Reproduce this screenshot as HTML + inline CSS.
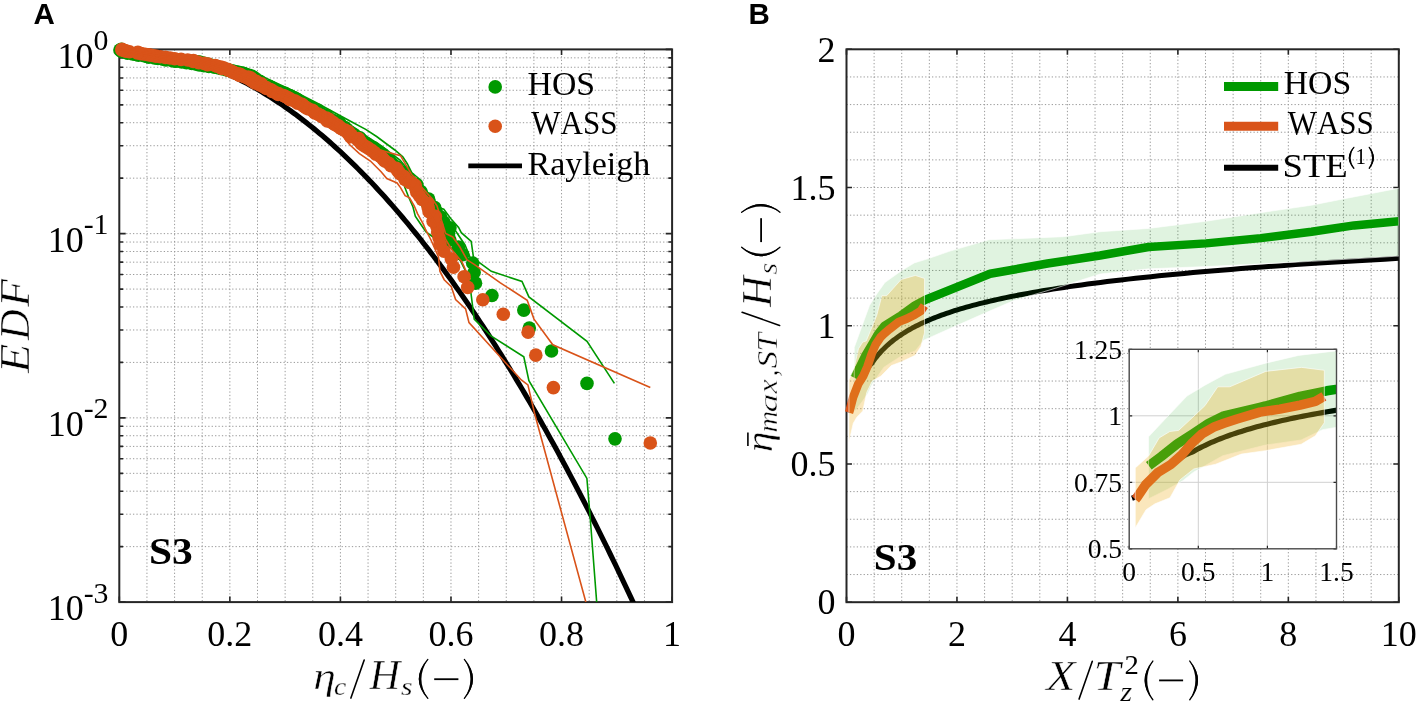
<!DOCTYPE html><html><head><meta charset="utf-8"><style>html,body{margin:0;padding:0;background:#fff;overflow:hidden}svg{display:block;will-change:transform}</style></head><body>
<svg width="1417" height="702" viewBox="0 0 1417 702">
<rect width="1417" height="702" fill="#fff"/>
<defs><clipPath id="c1"><rect x="107.3" y="29.4" width="584.8" height="572.7"/></clipPath>
<clipPath id="c2"><rect x="842.5" y="49.3" width="556.3" height="552.9"/></clipPath>
<clipPath id="ci"><rect x="1129.2" y="349.3" width="207.3" height="199.5"/></clipPath></defs>
<path d="M146.94 49.4V602.1M174.58 49.4V602.1M202.22 49.4V602.1M229.86 49.4V602.1M257.5 49.4V602.1M285.14 49.4V602.1M312.78 49.4V602.1M340.42 49.4V602.1M368.06 49.4V602.1M395.7 49.4V602.1M423.34 49.4V602.1M450.98 49.4V602.1M478.62 49.4V602.1M506.26 49.4V602.1M533.9 49.4V602.1M561.54 49.4V602.1M589.18 49.4V602.1M616.82 49.4V602.1M644.46 49.4V602.1M119.3 546.64H672.1M119.3 514.2H672.1M119.3 491.18H672.1M119.3 473.33H672.1M119.3 458.74H672.1M119.3 446.4H672.1M119.3 435.72H672.1M119.3 426.3H672.1M119.3 417.87H672.1M119.3 362.41H672.1M119.3 329.97H672.1M119.3 306.95H672.1M119.3 289.09H672.1M119.3 274.51H672.1M119.3 262.17H672.1M119.3 251.49H672.1M119.3 242.06H672.1M119.3 233.63H672.1M119.3 178.17H672.1M119.3 145.73H672.1M119.3 122.71H672.1M119.3 104.86H672.1M119.3 90.27H672.1M119.3 77.94H672.1M119.3 67.25H672.1M119.3 57.83H672.1" stroke="#9a9a9a" stroke-width="1" stroke-dasharray="1.3 2.12" fill="none"/>
<path d="M874.12 49.3V602.2M901.73 49.3V602.2M929.35 49.3V602.2M956.96 49.3V602.2M984.58 49.3V602.2M1012.19 49.3V602.2M1039.81 49.3V602.2M1067.42 49.3V602.2M1095.04 49.3V602.2M1122.65 49.3V602.2M1150.26 49.3V602.2M1177.88 49.3V602.2M1205.49 49.3V602.2M1233.11 49.3V602.2M1260.72 49.3V602.2M1288.34 49.3V602.2M1315.95 49.3V602.2M1343.57 49.3V602.2M1371.18 49.3V602.2M846.5 574.56H1398.8M846.5 546.91H1398.8M846.5 519.26H1398.8M846.5 491.62H1398.8M846.5 463.98H1398.8M846.5 436.33H1398.8M846.5 408.69H1398.8M846.5 381.04H1398.8M846.5 353.39H1398.8M846.5 325.75H1398.8M846.5 298.1H1398.8M846.5 270.46H1398.8M846.5 242.81H1398.8M846.5 215.17H1398.8M846.5 187.52H1398.8M846.5 159.88H1398.8M846.5 132.23H1398.8M846.5 104.59H1398.8M846.5 76.94H1398.8" stroke="#9a9a9a" stroke-width="1" stroke-dasharray="1.3 2.12" fill="none"/>
<path d="M119.3 602.1h6.4M672.1 602.1h-6.4M119.3 546.64h3.8M672.1 546.64h-3.8M119.3 514.2h3.8M672.1 514.2h-3.8M119.3 491.18h3.8M672.1 491.18h-3.8M119.3 473.33h3.8M672.1 473.33h-3.8M119.3 458.74h3.8M672.1 458.74h-3.8M119.3 446.4h3.8M672.1 446.4h-3.8M119.3 435.72h3.8M672.1 435.72h-3.8M119.3 426.3h3.8M672.1 426.3h-3.8M119.3 417.87h6.4M672.1 417.87h-6.4M119.3 362.41h3.8M672.1 362.41h-3.8M119.3 329.97h3.8M672.1 329.97h-3.8M119.3 306.95h3.8M672.1 306.95h-3.8M119.3 289.09h3.8M672.1 289.09h-3.8M119.3 274.51h3.8M672.1 274.51h-3.8M119.3 262.17h3.8M672.1 262.17h-3.8M119.3 251.49h3.8M672.1 251.49h-3.8M119.3 242.06h3.8M672.1 242.06h-3.8M119.3 233.63h6.4M672.1 233.63h-6.4M119.3 178.17h3.8M672.1 178.17h-3.8M119.3 145.73h3.8M672.1 145.73h-3.8M119.3 122.71h3.8M672.1 122.71h-3.8M119.3 104.86h3.8M672.1 104.86h-3.8M119.3 90.27h3.8M672.1 90.27h-3.8M119.3 77.94h3.8M672.1 77.94h-3.8M119.3 67.25h3.8M672.1 67.25h-3.8M119.3 57.83h3.8M672.1 57.83h-3.8M119.3 49.4h6.4M672.1 49.4h-6.4M119.3 602.1v-5.5M119.3 49.4v5.5M229.86 602.1v-5.5M229.86 49.4v5.5M340.42 602.1v-5.5M340.42 49.4v5.5M450.98 602.1v-5.5M450.98 49.4v5.5M561.54 602.1v-5.5M561.54 49.4v5.5M672.1 602.1v-5.5M672.1 49.4v5.5" stroke="#262626" stroke-width="1.6" fill="none"/>
<rect x="119.3" y="49.4" width="552.8" height="552.7" fill="none" stroke="#262626" stroke-width="2"/>
<g clip-path="url(#c1)">
<polyline points="119.3,49.4 121.9,49.41 124.49,49.46 127.09,49.53 129.69,49.63 132.29,49.75 134.88,49.91 137.48,50.09 140.08,50.3 142.68,50.54 145.27,50.81 147.87,51.11 150.47,51.43 153.07,51.79 155.66,52.17 158.26,52.58 160.86,53.02 163.45,53.48 166.05,53.98 168.65,54.5 171.25,55.05 173.84,55.63 176.44,56.24 179.04,56.87 181.64,57.54 184.23,58.23 186.83,58.95 189.43,59.7 192.03,60.48 194.62,61.28 197.22,62.11 199.82,62.98 202.41,63.87 205.01,64.78 207.61,65.73 210.21,66.7 212.8,67.71 215.4,68.74 218,69.8 220.6,70.89 223.19,72 225.79,73.15 228.39,74.32 230.99,75.52 233.58,76.75 236.18,78.01 238.78,79.29 241.37,80.61 243.97,81.95 246.57,83.32 249.17,84.72 251.76,86.14 254.36,87.6 256.96,89.08 259.56,90.59 262.15,92.13 264.75,93.7 267.35,95.3 269.94,96.92 272.54,98.57 275.14,100.25 277.74,101.96 280.33,103.7 282.93,105.47 285.53,107.26 288.13,109.08 290.72,110.93 293.32,112.81 295.92,114.72 298.52,116.66 301.11,118.62 303.71,120.61 306.31,122.63 308.9,124.68 311.5,126.76 314.1,128.86 316.7,130.99 319.29,133.15 321.89,135.34 324.49,137.56 327.09,139.81 329.68,142.08 332.28,144.39 334.88,146.72 337.48,149.08 340.07,151.46 342.67,153.88 345.27,156.32 347.86,158.79 350.46,161.29 353.06,163.82 355.66,166.38 358.25,168.97 360.85,171.58 363.45,174.22 366.05,176.89 368.64,179.59 371.24,182.31 373.84,185.07 376.44,187.85 379.03,190.66 381.63,193.5 384.23,196.37 386.82,199.27 389.42,202.19 392.02,205.14 394.62,208.12 397.21,211.13 399.81,214.17 402.41,217.23 405.01,220.33 407.6,223.45 410.2,226.6 412.8,229.78 415.4,232.99 417.99,236.22 420.59,239.48 423.19,242.78 425.78,246.09 428.38,249.44 430.98,252.82 433.58,256.22 436.17,259.66 438.77,263.12 441.37,266.61 443.97,270.12 446.56,273.67 449.16,277.24 451.76,280.85 454.36,284.48 456.95,288.13 459.55,291.82 462.15,295.54 464.74,299.28 467.34,303.05 469.94,306.85 472.54,310.68 475.13,314.54 477.73,318.42 480.33,322.33 482.93,326.28 485.52,330.25 488.12,334.24 490.72,338.27 493.32,342.32 495.91,346.41 498.51,350.52 501.11,354.66 503.7,358.82 506.3,363.02 508.9,367.24 511.5,371.49 514.09,375.77 516.69,380.08 519.29,384.42 521.89,388.78 524.48,393.18 527.08,397.6 529.68,402.05 532.27,406.53 534.87,411.03 537.47,415.57 540.07,420.13 542.66,424.72 545.26,429.34 547.86,433.99 550.46,438.66 553.05,443.37 555.65,448.1 558.25,452.86 560.85,457.65 563.44,462.47 566.04,467.31 568.64,472.19 571.23,477.09 573.83,482.02 576.43,486.98 579.03,491.96 581.62,496.98 584.22,502.02 586.82,507.09 589.42,512.19 592.01,517.32 594.61,522.48 597.21,527.66 599.81,532.87 602.4,538.11 605,543.38 607.6,548.68 610.19,554.01 612.79,559.36 615.39,564.74 617.99,570.15 620.58,575.59 623.18,581.06 625.78,586.55 628.38,592.08 630.97,597.63 633.57,603.21 636.17,608.82" fill="none" stroke="#000" stroke-width="5.2"/>
<g fill="#009900">
<circle cx="615" cy="438.86" r="6.8"/>
<circle cx="587" cy="383.4" r="6.8"/>
<circle cx="551.5" cy="350.96" r="6.8"/>
<circle cx="529.3" cy="327.94" r="6.8"/>
<circle cx="523.8" cy="310.09" r="6.8"/>
<circle cx="491.9" cy="295.5" r="6.8"/>
<circle cx="475.5" cy="283.16" r="6.8"/>
<circle cx="474.1" cy="272.48" r="6.8"/>
<circle cx="472.7" cy="263.06" r="6.8"/>
<circle cx="462.7" cy="254.63" r="6.8"/>
<circle cx="458.4" cy="247" r="6.8"/>
<circle cx="449.9" cy="240.04" r="6.8"/>
<circle cx="448.5" cy="233.63" r="6.8"/>
<circle cx="449.95" cy="227.7" r="6.8"/>
<circle cx="443.79" cy="222.18" r="6.8"/>
<circle cx="440.64" cy="217.02" r="6.8"/>
<circle cx="436.29" cy="212.17" r="6.8"/>
<circle cx="434.69" cy="207.6" r="6.8"/>
<circle cx="427.18" cy="203.27" r="6.8"/>
<circle cx="428.65" cy="199.17" r="6.8"/>
<circle cx="422.56" cy="195.26" r="6.8"/>
<circle cx="420.91" cy="191.54" r="6.8"/>
<circle cx="417.42" cy="187.98" r="6.8"/>
<circle cx="416.79" cy="184.58" r="6.8"/>
<circle cx="409.79" cy="181.31" r="6.8"/>
<circle cx="408.53" cy="178.17" r="6.8"/>
<circle cx="405.24" cy="175.15" r="6.8"/>
<circle cx="403.95" cy="172.24" r="6.8"/>
<circle cx="398.28" cy="169.44" r="6.8"/>
<circle cx="396.45" cy="166.72" r="6.8"/>
<circle cx="392.38" cy="164.1" r="6.8"/>
<circle cx="390.36" cy="161.56" r="6.8"/>
<circle cx="387.97" cy="159.1" r="6.8"/>
<circle cx="383.01" cy="156.71" r="6.8"/>
<circle cx="382.85" cy="154.39" r="6.8"/>
<circle cx="379.54" cy="152.14" r="6.8"/>
<circle cx="376.07" cy="149.94" r="6.8"/>
<circle cx="373.64" cy="147.81" r="6.8"/>
<circle cx="368.9" cy="145.73" r="6.8"/>
<circle cx="366.82" cy="143.71" r="6.8"/>
<circle cx="363.16" cy="141.73" r="6.8"/>
<circle cx="361.35" cy="139.8" r="6.8"/>
<circle cx="359.76" cy="137.92" r="6.8"/>
<circle cx="355.81" cy="136.08" r="6.8"/>
<circle cx="353.73" cy="134.28" r="6.8"/>
<circle cx="351" cy="132.52" r="6.8"/>
<circle cx="348.48" cy="130.8" r="6.8"/>
<circle cx="346.41" cy="129.12" r="6.8"/>
<circle cx="344.97" cy="127.47" r="6.8"/>
<circle cx="341.4" cy="125.85" r="6.8"/>
<circle cx="340.28" cy="124.27" r="6.8"/>
<circle cx="339.3" cy="122.71" r="6.8"/>
<circle cx="335.55" cy="121.19" r="6.8"/>
<circle cx="331.84" cy="119.69" r="6.8"/>
<circle cx="328.46" cy="118.23" r="6.8"/>
<circle cx="326.13" cy="116.78" r="6.8"/>
<circle cx="326.6" cy="115.37" r="6.8"/>
<circle cx="322.22" cy="113.98" r="6.8"/>
<circle cx="319.02" cy="112.61" r="6.8"/>
<circle cx="317.69" cy="111.26" r="6.8"/>
<circle cx="317.62" cy="109.94" r="6.8"/>
<circle cx="312.91" cy="108.64" r="6.8"/>
<circle cx="311.21" cy="107.36" r="6.8"/>
<circle cx="308.57" cy="106.1" r="6.8"/>
<circle cx="305.57" cy="104.86" r="6.8"/>
<circle cx="302.43" cy="103.64" r="6.8"/>
<circle cx="301.22" cy="102.43" r="6.8"/>
<circle cx="299.27" cy="101.25" r="6.8"/>
<circle cx="298.13" cy="100.08" r="6.8"/>
<circle cx="296.36" cy="98.93" r="6.8"/>
<circle cx="294.44" cy="97.8" r="6.8"/>
<circle cx="291.66" cy="96.68" r="6.8"/>
<circle cx="289.85" cy="95.57" r="6.8"/>
<circle cx="285.29" cy="94.48" r="6.8"/>
<circle cx="285.15" cy="93.41" r="6.8"/>
<circle cx="281.74" cy="92.35" r="6.8"/>
<circle cx="278.27" cy="91.3" r="6.8"/>
<circle cx="276.76" cy="90.27" r="6.8"/>
<circle cx="273.65" cy="89.25" r="6.8"/>
<circle cx="272.71" cy="88.25" r="6.8"/>
<circle cx="270.81" cy="87.25" r="6.8"/>
<circle cx="269.27" cy="86.27" r="6.8"/>
<circle cx="263.26" cy="85.3" r="6.8"/>
<circle cx="261.74" cy="84.34" r="6.8"/>
<circle cx="261.43" cy="83.4" r="6.8"/>
<circle cx="260.8" cy="82.46" r="6.8"/>
<circle cx="260.25" cy="81.53" r="6.8"/>
<circle cx="258.18" cy="80.62" r="6.8"/>
<circle cx="254" cy="79.72" r="6.8"/>
<circle cx="254.69" cy="78.82" r="6.8"/>
<circle cx="254.71" cy="77.94" r="6.8"/>
<circle cx="252.66" cy="77.06" r="6.8"/>
<circle cx="251.98" cy="76.2" r="6.8"/>
<circle cx="249.21" cy="75.34" r="6.8"/>
<circle cx="246.41" cy="74.5" r="6.8"/>
<circle cx="244.09" cy="73.66" r="6.8"/>
<circle cx="241.59" cy="72.83" r="6.8"/>
<circle cx="237.78" cy="72.01" r="6.8"/>
<circle cx="233.62" cy="71.2" r="6.8"/>
<circle cx="228.66" cy="70.39" r="6.8"/>
<circle cx="225.93" cy="69.6" r="6.8"/>
<circle cx="221.68" cy="68.81" r="6.8"/>
<circle cx="218.68" cy="68.03" r="6.8"/>
<circle cx="214.39" cy="67.25" r="6.8"/>
<circle cx="208.84" cy="66.49" r="6.8"/>
<circle cx="203.87" cy="65.73" r="6.8"/>
<circle cx="199.3" cy="64.98" r="6.8"/>
<circle cx="196.36" cy="64.23" r="6.8"/>
<circle cx="191.77" cy="63.5" r="6.8"/>
<circle cx="186.49" cy="62.77" r="6.8"/>
<circle cx="181.78" cy="62.04" r="6.8"/>
<circle cx="175.86" cy="61.32" r="6.8"/>
<circle cx="172.36" cy="60.61" r="6.8"/>
<circle cx="165.95" cy="59.91" r="6.8"/>
<circle cx="162.97" cy="59.21" r="6.8"/>
<circle cx="157.93" cy="58.52" r="6.8"/>
<circle cx="154.53" cy="57.83" r="6.8"/>
<circle cx="148.9" cy="57.15" r="6.8"/>
<circle cx="146.85" cy="56.47" r="6.8"/>
<circle cx="144" cy="55.8" r="6.8"/>
<circle cx="138.45" cy="55.14" r="6.8"/>
<circle cx="135.8" cy="54.48" r="6.8"/>
<circle cx="132.7" cy="53.83" r="6.8"/>
<circle cx="127.59" cy="53.18" r="6.8"/>
<circle cx="126.22" cy="52.54" r="6.8"/>
<circle cx="123.92" cy="51.9" r="6.8"/>
<circle cx="121.24" cy="51.27" r="6.8"/>
<circle cx="122.06" cy="50.64" r="6.8"/>
<circle cx="119.93" cy="50.02" r="6.8"/>
<circle cx="121.45" cy="49.4" r="6.8"/>
</g>
<polyline points="119.3,49.4 160,52.5 200,56 240,67 265.6,78 291.3,90 316.9,103 342.6,117 350,121 365.7,129.4 376.6,136.5 388,145 394.8,150 402.8,156.8 407.3,163.7 411.9,172.8 418.7,178.5 422.2,186.5 427.9,195.6 434.7,200.1 437,207 443.8,209.3 450.7,218.4 458.6,227.5 461.3,232.7 471.2,241.3 473.4,256.9 478.4,261.9 491.3,271.3 522,281.5 528.9,296.9 587,341.4 614.4,383.4" fill="none" stroke="#009900" stroke-width="1.6"/>
<polyline points="119.3,49.4 160,57 200,62 240,73 300,100 350,132 380,152 400,175 408.5,196.7 413,207 415.3,216.1 419.9,223 426,232 440,242 455,250 467,274 470.5,285.4 470.8,291.8 474.2,319.1 491.3,336.2 523.8,356.8 528.9,380.7 586.9,478.4 590.2,517.7 596.7,602.3" fill="none" stroke="#009900" stroke-width="1.6"/>
<polyline points="119.3,49.4 160,54 200,59 240,70 300,95 350,126 380,145 400,160 420,184 440,212 455,230 465,245 472,262" fill="none" stroke="#009900" stroke-width="1.6"/>
<g fill="#d95319">
<circle cx="650.3" cy="443.06" r="6.8"/>
<circle cx="553.4" cy="387.6" r="6.8"/>
<circle cx="535.8" cy="355.15" r="6.8"/>
<circle cx="528.1" cy="332.14" r="6.8"/>
<circle cx="503.3" cy="314.28" r="6.8"/>
<circle cx="482.8" cy="299.69" r="6.8"/>
<circle cx="467.7" cy="287.36" r="6.8"/>
<circle cx="464.1" cy="276.68" r="6.8"/>
<circle cx="453.5" cy="267.25" r="6.8"/>
<circle cx="451.3" cy="258.82" r="6.8"/>
<circle cx="444" cy="251.2" r="6.8"/>
<circle cx="440" cy="244.23" r="6.8"/>
<circle cx="439" cy="237.83" r="6.8"/>
<circle cx="437.7" cy="231.9" r="6.8"/>
<circle cx="436.91" cy="226.38" r="6.8"/>
<circle cx="433.07" cy="221.22" r="6.8"/>
<circle cx="435.32" cy="216.37" r="6.8"/>
<circle cx="429.04" cy="211.79" r="6.8"/>
<circle cx="428.15" cy="207.47" r="6.8"/>
<circle cx="427.31" cy="203.36" r="6.8"/>
<circle cx="422.13" cy="199.46" r="6.8"/>
<circle cx="419.42" cy="195.74" r="6.8"/>
<circle cx="416.79" cy="192.18" r="6.8"/>
<circle cx="415.85" cy="188.77" r="6.8"/>
<circle cx="415.26" cy="185.51" r="6.8"/>
<circle cx="409.42" cy="182.37" r="6.8"/>
<circle cx="405.01" cy="179.35" r="6.8"/>
<circle cx="404.09" cy="176.44" r="6.8"/>
<circle cx="399.92" cy="173.63" r="6.8"/>
<circle cx="397.9" cy="170.92" r="6.8"/>
<circle cx="396.31" cy="168.3" r="6.8"/>
<circle cx="390.88" cy="165.76" r="6.8"/>
<circle cx="388.76" cy="163.29" r="6.8"/>
<circle cx="384.75" cy="160.91" r="6.8"/>
<circle cx="382.76" cy="158.59" r="6.8"/>
<circle cx="380.4" cy="156.33" r="6.8"/>
<circle cx="375.91" cy="154.14" r="6.8"/>
<circle cx="373.78" cy="152.01" r="6.8"/>
<circle cx="371.07" cy="149.93" r="6.8"/>
<circle cx="367.83" cy="147.9" r="6.8"/>
<circle cx="364.48" cy="145.93" r="6.8"/>
<circle cx="361.59" cy="144" r="6.8"/>
<circle cx="360.56" cy="142.12" r="6.8"/>
<circle cx="357.93" cy="140.28" r="6.8"/>
<circle cx="358.5" cy="138.48" r="6.8"/>
<circle cx="350.52" cy="136.72" r="6.8"/>
<circle cx="351.25" cy="135" r="6.8"/>
<circle cx="349.28" cy="133.31" r="6.8"/>
<circle cx="348.24" cy="131.66" r="6.8"/>
<circle cx="345.02" cy="130.05" r="6.8"/>
<circle cx="341.09" cy="128.46" r="6.8"/>
<circle cx="339.49" cy="126.91" r="6.8"/>
<circle cx="337.59" cy="125.39" r="6.8"/>
<circle cx="334.05" cy="123.89" r="6.8"/>
<circle cx="332.89" cy="122.42" r="6.8"/>
<circle cx="327.31" cy="120.98" r="6.8"/>
<circle cx="329.25" cy="119.56" r="6.8"/>
<circle cx="326.6" cy="118.17" r="6.8"/>
<circle cx="322.14" cy="116.81" r="6.8"/>
<circle cx="321.02" cy="115.46" r="6.8"/>
<circle cx="318.13" cy="114.14" r="6.8"/>
<circle cx="314.82" cy="112.84" r="6.8"/>
<circle cx="313.62" cy="111.56" r="6.8"/>
<circle cx="312.46" cy="110.3" r="6.8"/>
<circle cx="308.57" cy="109.06" r="6.8"/>
<circle cx="306.39" cy="107.83" r="6.8"/>
<circle cx="304.59" cy="106.63" r="6.8"/>
<circle cx="303.08" cy="105.45" r="6.8"/>
<circle cx="302" cy="104.28" r="6.8"/>
<circle cx="297.64" cy="103.13" r="6.8"/>
<circle cx="296.97" cy="101.99" r="6.8"/>
<circle cx="294.62" cy="100.87" r="6.8"/>
<circle cx="290.15" cy="99.77" r="6.8"/>
<circle cx="289.77" cy="98.68" r="6.8"/>
<circle cx="287.67" cy="97.61" r="6.8"/>
<circle cx="285.38" cy="96.55" r="6.8"/>
<circle cx="283.44" cy="95.5" r="6.8"/>
<circle cx="278.25" cy="94.47" r="6.8"/>
<circle cx="278.44" cy="93.45" r="6.8"/>
<circle cx="275.28" cy="92.44" r="6.8"/>
<circle cx="272.11" cy="91.45" r="6.8"/>
<circle cx="272.24" cy="90.47" r="6.8"/>
<circle cx="270.28" cy="89.5" r="6.8"/>
<circle cx="266.44" cy="88.54" r="6.8"/>
<circle cx="266.36" cy="87.59" r="6.8"/>
<circle cx="263.39" cy="86.66" r="6.8"/>
<circle cx="262.45" cy="85.73" r="6.8"/>
<circle cx="259.59" cy="84.82" r="6.8"/>
<circle cx="261.36" cy="83.91" r="6.8"/>
<circle cx="254.84" cy="83.02" r="6.8"/>
<circle cx="256.51" cy="82.13" r="6.8"/>
<circle cx="256.05" cy="81.26" r="6.8"/>
<circle cx="251.39" cy="80.39" r="6.8"/>
<circle cx="252.24" cy="79.54" r="6.8"/>
<circle cx="251.02" cy="78.69" r="6.8"/>
<circle cx="250.51" cy="77.85" r="6.8"/>
<circle cx="248.25" cy="77.03" r="6.8"/>
<circle cx="243.53" cy="76.2" r="6.8"/>
<circle cx="239.65" cy="75.39" r="6.8"/>
<circle cx="240.64" cy="74.59" r="6.8"/>
<circle cx="238.52" cy="73.79" r="6.8"/>
<circle cx="234.58" cy="73" r="6.8"/>
<circle cx="233.65" cy="72.22" r="6.8"/>
<circle cx="231.8" cy="71.45" r="6.8"/>
<circle cx="230.15" cy="70.68" r="6.8"/>
<circle cx="227.87" cy="69.93" r="6.8"/>
<circle cx="227.48" cy="69.18" r="6.8"/>
<circle cx="221.89" cy="68.43" r="6.8"/>
<circle cx="223.43" cy="67.69" r="6.8"/>
<circle cx="220.85" cy="66.96" r="6.8"/>
<circle cx="217.02" cy="66.24" r="6.8"/>
<circle cx="215.22" cy="65.52" r="6.8"/>
<circle cx="207.56" cy="64.81" r="6.8"/>
<circle cx="208.35" cy="64.1" r="6.8"/>
<circle cx="204.04" cy="63.41" r="6.8"/>
<circle cx="198.87" cy="62.71" r="6.8"/>
<circle cx="197.42" cy="62.03" r="6.8"/>
<circle cx="193.24" cy="61.35" r="6.8"/>
<circle cx="193.44" cy="60.67" r="6.8"/>
<circle cx="187.71" cy="60" r="6.8"/>
<circle cx="181.05" cy="59.34" r="6.8"/>
<circle cx="174.72" cy="58.68" r="6.8"/>
<circle cx="169.99" cy="58.02" r="6.8"/>
<circle cx="165.44" cy="57.38" r="6.8"/>
<circle cx="160.34" cy="56.73" r="6.8"/>
<circle cx="155.91" cy="56.1" r="6.8"/>
<circle cx="152.51" cy="55.46" r="6.8"/>
<circle cx="149.15" cy="54.84" r="6.8"/>
<circle cx="145.14" cy="54.21" r="6.8"/>
<circle cx="141.24" cy="53.6" r="6.8"/>
<circle cx="137.3" cy="52.98" r="6.8"/>
<circle cx="137.85" cy="52.37" r="6.8"/>
<circle cx="129.41" cy="51.77" r="6.8"/>
<circle cx="126.38" cy="51.17" r="6.8"/>
<circle cx="124.57" cy="50.58" r="6.8"/>
<circle cx="121.99" cy="49.99" r="6.8"/>
<circle cx="122.01" cy="49.4" r="6.8"/>
</g>
<polyline points="119.3,49.4 160,54 200,59 240,71 300,98 350,129 380,150 400.5,155.7 411.9,175.1 419.9,181.9 421,186.5 432.4,199 437,205.8 445.6,233.5 452.7,237 459.9,247 467,259.8 474.2,264.4 500,282.6 527.2,300.3 534,319.1 552.8,344.8 650.3,387.5" fill="none" stroke="#d95319" stroke-width="1.6"/>
<polyline points="119.3,49.4 160,59 200,65 240,81 265.6,93.5 291.3,103 316.9,120 342.6,136 350,145 359.4,153.7 370.4,161 381.1,171.7 386.8,178.5 397.1,183 400.5,187.6 405.1,195.6 409.6,197.8 414.2,205.8 417.6,213.8 423.3,224.1 425.6,229.7 431,240 438.5,256.9 439.9,271.2 444.2,279.7 451.3,286.8 455.6,299.6 465.6,308.9 469,322.6 521.3,380 527.9,384.9 534.4,412.8 585.9,602.3" fill="none" stroke="#d95319" stroke-width="1.6"/>
<polyline points="119.3,49.4 160,56 200,62 240,76 300,102 350,137 380,156 400,172 420,198 440,230 452,250 462,262 470,280" fill="none" stroke="#d95319" stroke-width="1.6"/>
</g>
<path d="M846.5 602.2v-5.5M846.5 49.3v5.5M956.96 602.2v-5.5M956.96 49.3v5.5M1067.42 602.2v-5.5M1067.42 49.3v5.5M1177.88 602.2v-5.5M1177.88 49.3v5.5M1288.34 602.2v-5.5M1288.34 49.3v5.5M1398.8 602.2v-5.5M1398.8 49.3v5.5M846.5 602.2h5.5M1398.8 602.2h-5.5M846.5 463.98h5.5M1398.8 463.98h-5.5M846.5 325.75h5.5M1398.8 325.75h-5.5M846.5 187.52h5.5M1398.8 187.52h-5.5M846.5 49.3h5.5M1398.8 49.3h-5.5" stroke="#262626" stroke-width="1.6" fill="none"/>
<rect x="846.5" y="49.3" width="552.3" height="552.9" fill="none" stroke="#262626" stroke-width="2"/>
<g clip-path="url(#c2)">
<polyline points="847.6,411.45 848.43,410.67 849.25,409.41 850.07,407.71 850.89,405.01 851.71,401.75 852.53,398.56 853.35,395.99 854.18,393.74 855,391.61 855.82,389.6 856.64,387.72 857.46,385.94 858.28,384.27 859.1,382.73 859.93,381.3 860.75,379.94 861.57,378.62 862.39,377.29 863.21,375.92 864.03,374.48 864.85,373.02 865.67,371.58 866.5,370.18 867.32,368.86 868.14,367.64 868.96,366.49 869.78,365.46 870.6,364.59 871.42,363.77 871.85,363.28 872.52,362.3 873.2,361.31 873.9,360.33 874.62,359.34 875.35,358.36 876.11,357.38 876.89,356.41 877.69,355.43 878.5,354.46 879.34,353.49 880.2,352.52 881.09,351.55 882,350.58 882.93,349.62 883.88,348.66 884.86,347.7 885.87,346.74 886.9,345.78 887.96,344.82 889.05,343.87 890.17,342.92 891.31,341.97 892.49,341.02 893.69,340.07 894.93,339.13 896.2,338.19 897.5,337.25 898.84,336.31 900.22,335.37 901.62,334.43 903.07,333.5 904.55,332.57 906.08,331.64 907.64,330.71 909.24,329.78 910.89,328.86 912.58,327.93 914.31,327.01 916.09,326.09 917.92,325.18 919.79,324.26 921.71,323.35 923.69,322.43 925.71,321.52 927.79,320.61 929.92,319.71 932.11,318.8 934.35,317.9 936.66,317 939.02,316.1 941.45,315.2 943.94,314.3 946.5,313.41 949.12,312.52 951.81,311.63 954.57,310.74 957.41,309.85 960.32,308.97 963.3,308.08 966.37,307.2 969.51,306.32 972.74,305.44 976.05,304.57 979.45,303.69 982.94,302.82 986.52,301.95 990.19,301.08 993.96,300.21 997.83,299.35 1001.79,298.48 1005.87,297.62 1010.05,296.76 1014.34,295.9 1018.74,295.05 1023.26,294.19 1027.9,293.34 1032.65,292.49 1037.54,291.64 1042.55,290.79 1047.69,289.95 1052.97,289.1 1058.38,288.26 1063.94,287.42 1069.65,286.58 1075.5,285.74 1081.51,284.91 1087.67,284.08 1094,283.25 1100.49,282.42 1107.15,281.59 1113.99,280.76 1121.01,279.94 1128.21,279.12 1135.6,278.3 1143.18,277.48 1150.96,276.66 1158.95,275.84 1167.14,275.03 1175.56,274.22 1184.19,273.41 1193.05,272.6 1202.14,271.8 1211.46,270.99 1221.04,270.19 1230.86,269.39 1240.95,268.59 1251.29,267.79 1261.91,267 1272.81,266.2 1283.99,265.41 1295.47,264.62 1307.24,263.83 1319.33,263.05 1331.73,262.26 1344.46,261.48 1357.52,260.7 1370.93,259.92 1384.68,259.14 1398.8,258.37" fill="none" stroke="#000" stroke-width="5" stroke-linejoin="round"/>
<polyline points="854.34,377.72 859.31,368.05 865.61,355.05 871.85,344.55 878.15,333.77 884.39,325.75 898.75,316.9 900.96,315.52 914.76,305.57 925.48,299.76 990.1,273.78 1047.54,263.55 1100.01,255.53 1148.61,246.96 1206.05,243.37 1260.72,238.12 1311.54,231.76 1354.06,225.4 1398.8,221.25" fill="none" stroke="#009900" stroke-width="8.5" stroke-linejoin="round"/>
<polygon points="854.23,347.59 861.91,326.3 869.59,305.29 876.77,293.96 884.88,282.62 901.07,271.01 914.21,263 929.18,258.3 950,251.11 988.99,239.77 1063.55,236.73 1100.01,231.76 1148.61,228.44 1206.05,221.25 1260.72,212.68 1311.54,205.22 1338.05,199.97 1398.8,188.22 1398.8,256.08 1311.54,261.34 1206.05,266.59 1148.61,268.8 1100.01,274.05 1055.82,288.15 1013.85,300.59 984.41,313.31 955.03,326.3 923.82,340.13 915.21,350.91 900.96,356.16 883.89,367.22 872.18,384.36 867.93,393.2 861.91,402.05 854.23,412" fill="#009900" fill-opacity="0.12" stroke="#fff" stroke-opacity="0.6" stroke-width="1"/>
<polyline points="848.99,412.56 849.65,410.62 853.07,397.35 858.1,384.36 863.12,376.34 867.49,366.39 871.85,353.39 875.61,344.55 880.63,337.08 884.39,333.49 889.58,329.07 898.75,321.88 906.7,318.84 914.76,314.69 920.89,310.82 924.32,305.57" fill="none" stroke="#d95319" stroke-width="8.5" stroke-linejoin="round"/>
<polygon points="848.93,379.93 854.23,367.49 858.48,348.7 862.74,342.06 866.22,340.95 870.47,330.73 876.77,315.24 881.9,295.62 886.71,295.62 901.07,279.58 915.37,275.44 924.48,278.48 924.48,332.94 920.89,346.48 915.21,355.33 900.96,361.96 891.29,365.56 881.02,376.06 872.29,381.04 866.77,392.37 862.79,410.9 856.77,417.25 853.24,423.34 848.93,442.14" fill="#edb120" fill-opacity="0.3" stroke="#fff" stroke-opacity="0.6" stroke-width="1"/>
</g>
<rect x="1129.2" y="349.3" width="207.3" height="199.5" fill="#fff"/>
<path d="M1198.3 349.3V548.8M1267.4 349.3V548.8M1129.2 482.3H1336.5M1129.2 415.8H1336.5" stroke="#d0d0d0" stroke-width="1" fill="none"/>
<g clip-path="url(#ci)">
<polyline points="1131.96,498.26 1134.02,497.51 1136.07,496.3 1138.13,494.67 1140.19,492.06 1142.24,488.93 1144.3,485.86 1146.35,483.39 1148.41,481.22 1150.46,479.17 1152.52,477.24 1154.57,475.42 1156.63,473.71 1158.68,472.11 1160.74,470.63 1162.79,469.25 1164.85,467.95 1166.9,466.67 1168.96,465.39 1171.01,464.07 1173.07,462.69 1175.12,461.29 1177.18,459.89 1179.24,458.55 1181.29,457.28 1183.35,456.1 1185.4,455 1187.46,454.01 1189.51,453.18 1191.57,452.38 1192.63,451.92 1194.3,450.96 1196.01,450.02 1197.76,449.07 1199.56,448.12 1201.4,447.18 1203.3,446.24 1205.24,445.3 1207.23,444.36 1209.28,443.42 1211.38,442.49 1213.54,441.56 1215.75,440.62 1218.02,439.69 1220.35,438.77 1222.74,437.84 1225.19,436.92 1227.71,435.99 1230.3,435.07 1232.95,434.15 1235.67,433.24 1238.46,432.32 1241.33,431.41 1244.27,430.49 1247.29,429.58 1250.39,428.67 1253.56,427.77 1256.83,426.86 1260.17,425.96 1263.61,425.05 1267.14,424.15 1270.75,423.26 1274.47,422.36 1278.28,421.46 1282.19,420.57 1286.2,419.68 1290.32,418.79 1294.55,417.9 1298.88,417.01 1303.34,416.13 1307.9,415.25 1312.59,414.37 1317.4,413.49 1322.34,412.61 1327.4,411.73 1332.6,410.86 1337.94,409.99 1343.41,409.12 1349.03,408.25 1354.8,407.38 1360.72,406.51 1366.79,405.65 1373.02,404.79 1379.42,403.93 1385.98,403.07 1392.72,402.21 1399.63,401.36 1406.72,400.5 1414,399.65 1421.48,398.8 1429.14,397.95 1437.01,397.11 1445.08,396.26 1453.37,395.42 1461.87,394.58 1470.6,393.74 1479.56,392.9 1488.75,392.06 1498.18,391.23 1507.86,390.4 1517.79,389.56 1527.98,388.73 1538.44,387.91 1549.18,387.08 1560.19,386.26 1571.5,385.43 1583.1,384.61 1595.01,383.8 1607.23,382.98 1619.77,382.16 1632.63,381.35 1645.84,380.54 1659.39,379.73 1673.3,378.92 1687.57,378.11 1702.22,377.31 1717.25,376.5 1732.68,375.7 1748.51,374.9 1764.75,374.1 1781.42,373.31 1798.53,372.51 1816.09,371.72 1834.11,370.93 1852.6,370.14 1871.57,369.35 1891.05,368.57 1911.03,367.78 1931.54,367 1952.58,366.22 1974.18,365.44 1996.35,364.66 2019.09,363.89 2042.44,363.11 2066.39,362.34 2090.98,361.57 2116.21,360.8 2142.1,360.03 2168.67,359.27 2195.93,358.5 2223.91,357.74 2252.63,356.98 2282.1,356.22 2312.34,355.47 2343.38,354.71 2375.23,353.96 2407.91,353.21 2441.45,352.46 2475.87,351.71 2511.2,350.97" fill="none" stroke="#000" stroke-width="5.2" stroke-linejoin="round"/>
<polyline points="1148.82,465.81 1161.26,456.5 1177.02,444 1192.63,433.89 1208.39,423.51 1224.01,415.8 1259.94,407.29 1265.47,405.96 1300.02,396.38 1326.83,390.8 1488.52,365.79 1632.25,355.95 1763.54,348.24 1885.15,339.99 2028.88,336.53 2165.7,331.48 2292.84,325.36 2399.26,319.24 2511.2,315.25" fill="none" stroke="#009900" stroke-width="9.5" stroke-linejoin="round"/>
<polygon points="1148.55,436.81 1167.76,416.33 1186.97,396.12 1204.93,385.21 1225.25,374.3 1265.74,363.13 1298.63,355.42 1336.09,350.9 1388.19,343.98 1485.76,333.07 1672.33,330.15 1763.54,325.36 1885.15,322.17 2028.88,315.25 2165.7,307.01 2292.84,299.82 2359.18,294.77 2511.2,283.47 2511.2,348.77 2292.84,353.82 2028.88,358.88 1885.15,361 1763.54,366.06 1652.98,379.62 1547.95,391.59 1474.29,403.83 1400.76,416.33 1322.68,429.63 1301.12,440.01 1265.47,445.06 1222.76,455.7 1193.46,472.19 1182.82,480.7 1167.76,489.22 1148.55,498.79" fill="#009900" fill-opacity="0.12" stroke="#fff" stroke-opacity="0.6" stroke-width="1"/>
<polyline points="1135.42,499.32 1137.08,497.46 1145.65,484.69 1158.22,472.19 1170.8,464.48 1181.72,454.9 1192.63,442.4 1202.03,433.89 1214.61,426.71 1224.01,423.25 1237,418.99 1259.94,412.08 1279.84,409.15 1300.02,405.16 1315.36,401.44 1323.92,396.38" fill="none" stroke="#d95319" stroke-width="9.5" stroke-linejoin="round"/>
<polygon points="1135.28,467.94 1148.55,455.97 1159.19,437.88 1169.83,431.49 1178.54,430.43 1189.18,420.59 1204.93,405.69 1217.79,386.81 1229.81,386.81 1265.74,371.38 1301.54,367.39 1324.34,370.31 1324.34,422.72 1315.36,435.75 1301.12,444.26 1265.47,450.65 1241.28,454.1 1215.58,464.21 1193.74,469 1179.92,479.91 1169.97,497.73 1154.91,503.85 1146.06,509.7 1135.28,527.79" fill="#edb120" fill-opacity="0.3" stroke="#fff" stroke-opacity="0.6" stroke-width="1"/>
</g>
<path d="M1129.2 548.8v-3M1129.2 349.3v3M1198.3 548.8v-3M1198.3 349.3v3M1267.4 548.8v-3M1267.4 349.3v3M1336.5 548.8v-3M1336.5 349.3v3M1129.2 548.8h3M1336.5 548.8h-3M1129.2 482.3h3M1336.5 482.3h-3M1129.2 415.8h3M1336.5 415.8h-3M1129.2 349.3h3M1336.5 349.3h-3" stroke="#262626" stroke-width="1.2" fill="none"/>
<rect x="1129.2" y="349.3" width="207.3" height="199.5" fill="none" stroke="#4a4a4a" stroke-width="1.4"/>
<g font-family='"Liberation Serif", serif' fill="#000">
<text x="33.4" y="24.3" font-family='"Liberation Sans", sans-serif' font-weight="bold" font-size="29.5">A</text>
<text x="748.5" y="24.3" font-family='"Liberation Sans", sans-serif' font-weight="bold" font-size="29.5">B</text>
<text x="108.5" y="67.5" font-size="36" text-anchor="end">10<tspan font-size="29.8" dy="-17.6">0</tspan></text>
<text x="108.5" y="251.73" font-size="36" text-anchor="end">10<tspan font-size="29.8" dy="-17.6">-1</tspan></text>
<text x="108.5" y="435.97" font-size="36" text-anchor="end">10<tspan font-size="29.8" dy="-17.6">-2</tspan></text>
<text x="108.5" y="620.2" font-size="36" text-anchor="end">10<tspan font-size="29.8" dy="-17.6">-3</tspan></text>
<text x="119.3" y="646.2" font-size="36" text-anchor="middle">0</text>
<text x="229.86" y="646.2" font-size="36" text-anchor="middle">0.2</text>
<text x="340.42" y="646.2" font-size="36" text-anchor="middle">0.4</text>
<text x="450.98" y="646.2" font-size="36" text-anchor="middle">0.6</text>
<text x="561.54" y="646.2" font-size="36" text-anchor="middle">0.8</text>
<text x="672.1" y="646.2" font-size="36" text-anchor="middle">1</text>
<text x="835.5" y="614.4" font-size="36" text-anchor="end">0</text>
<text x="835.5" y="476.18" font-size="36" text-anchor="end">0.5</text>
<text x="835.5" y="337.95" font-size="36" text-anchor="end">1</text>
<text x="835.5" y="199.72" font-size="36" text-anchor="end">1.5</text>
<text x="835.5" y="61.5" font-size="36" text-anchor="end">2</text>
<text x="846.5" y="646.2" font-size="36" text-anchor="middle">0</text>
<text x="956.96" y="646.2" font-size="36" text-anchor="middle">2</text>
<text x="1067.42" y="646.2" font-size="36" text-anchor="middle">4</text>
<text x="1177.88" y="646.2" font-size="36" text-anchor="middle">6</text>
<text x="1288.34" y="646.2" font-size="36" text-anchor="middle">8</text>
<text x="1398.8" y="646.2" font-size="36" text-anchor="middle">10</text>
<text x="1122" y="558.1" font-size="27.5" text-anchor="end">0.5</text>
<text x="1122" y="491.6" font-size="27.5" text-anchor="end">0.75</text>
<text x="1122" y="425.1" font-size="27.5" text-anchor="end">1</text>
<text x="1122" y="358.6" font-size="27.5" text-anchor="end">1.25</text>
<text x="1129.2" y="580.8" font-size="27.5" text-anchor="middle">0</text>
<text x="1198.3" y="580.8" font-size="27.5" text-anchor="middle">0.5</text>
<text x="1267.4" y="580.8" font-size="27.5" text-anchor="middle">1</text>
<text x="1336.5" y="580.8" font-size="27.5" text-anchor="middle">1.5</text>
<text transform="translate(313.17 689.34) scale(1.1777 1)" font-size="38.71" font-style="italic" fill="#000" stroke="#fff" stroke-width="0.50">η</text>
<text transform="translate(334.05 695.14) scale(1.0531 1)" font-size="26.20" font-style="italic" fill="#000" stroke="#fff" stroke-width="0.30">c</text>
<line x1="350.90" y1="698.10" x2="364.20" y2="660.00" stroke="#000" stroke-width="1.60" stroke-linecap="round"/>
<text transform="translate(369.56 689.00) scale(1.0139 1)" font-size="41.85" font-style="italic" fill="#000" stroke="#fff" stroke-width="0.50">H</text>
<text transform="translate(401.04 695.14) scale(1.1341 1)" font-size="26.20" font-style="italic" fill="#000" stroke="#fff" stroke-width="0.30">s</text>
<path d="M427.85 659.45Q409.75 678.90 427.85 698.35Q414.95 678.90 427.85 659.45Z" fill="#000"/><path d="M427.85 659.45Q411.05 678.90 427.85 698.35" fill="none" stroke="#000" stroke-width="1.30" stroke-linecap="round"/>
<rect x="434.20" y="678.30" width="24.20" height="1.80" fill="#000"/>
<path d="M464.35 659.45Q481.65 678.90 464.35 698.35Q476.45 678.90 464.35 659.45Z" fill="#000"/><path d="M464.35 659.45Q480.35 678.90 464.35 698.35" fill="none" stroke="#000" stroke-width="1.30" stroke-linecap="round"/>
<text transform="translate(1046.19 690.40) scale(1.1449 1)" font-size="41.85" font-style="italic" fill="#000" stroke="#fff" stroke-width="0.50">X</text>
<line x1="1079.10" y1="699.10" x2="1092.30" y2="661.30" stroke="#000" stroke-width="1.60" stroke-linecap="round"/>
<text transform="translate(1093.53 690.40) scale(1.1647 1)" font-size="41.54" font-style="italic" fill="#000" stroke="#fff" stroke-width="0.50">T</text>
<text transform="translate(1124.44 674.10) scale(1.0671 1)" font-size="26.88" fill="#000">2</text>
<text transform="translate(1120.15 700.70) scale(1.1195 1)" font-size="27.45" font-style="italic" fill="#000" stroke="#fff" stroke-width="0.20">z</text>
<path d="M1152.85 661.05Q1136.35 680.40 1152.85 699.75Q1141.55 680.40 1152.85 661.05Z" fill="#000"/><path d="M1152.85 661.05Q1137.65 680.40 1152.85 699.75" fill="none" stroke="#000" stroke-width="1.30" stroke-linecap="round"/>
<rect x="1159.10" y="679.50" width="24.00" height="1.80" fill="#000"/>
<path d="M1189.75 661.05Q1206.25 680.40 1189.75 699.75Q1201.05 680.40 1189.75 661.05Z" fill="#000"/><path d="M1189.75 661.05Q1204.95 680.40 1189.75 699.75" fill="none" stroke="#000" stroke-width="1.30" stroke-linecap="round"/>
<text transform="translate(29.00 373.50) rotate(-90) scale(1.1304 1) translate(0.50 0)" font-size="42.30" font-style="italic" fill="#000" stroke="#fff" stroke-width="0.50">E</text>
<text transform="translate(28.92 340.60) rotate(-90) scale(1.0211 1) translate(0.47 0)" font-size="41.72" font-style="italic" fill="#000" stroke="#fff" stroke-width="0.50">D</text>
<text transform="translate(29.00 306.90) rotate(-90) scale(1.0829 1) translate(0.22 0)" font-size="41.85" font-style="italic" fill="#000" stroke="#fff" stroke-width="0.50">F</text>
<rect x="747.10" y="432.50" width="1.60" height="13.50" fill="#000"/>
<text transform="translate(771.69 450.80) rotate(-90) scale(1.1190 1) translate(-1.34 0)" font-size="37.54" font-style="italic" fill="#000" stroke="#fff" stroke-width="0.50">η</text>
<text transform="translate(777.40 431.30) rotate(-90) scale(1.1003 1) translate(-0.99 0)" font-size="27.38" font-style="italic" fill="#000" stroke="#fff" stroke-width="0.50">m</text>
<text transform="translate(777.14 411.40) rotate(-90) scale(1.4793 1) translate(-0.77 0)" font-size="25.78" font-style="italic" fill="#000" stroke="#fff" stroke-width="0.50">a</text>
<text transform="translate(777.40 393.90) rotate(-90) scale(1.1690 1) translate(0.34 0)" font-size="27.45" font-style="italic" fill="#000" stroke="#fff" stroke-width="0.50">x</text>
<text transform="translate(777.11 375.50) rotate(-90) scale(0.8349 1) translate(-1.03 0)" font-size="31.15" font-style="italic" fill="#000" stroke="#fff" stroke-width="0.50">,</text>
<text transform="translate(777.01 368.20) rotate(-90) scale(1.1941 1) translate(-0.35 0)" font-size="29.62" font-style="italic" fill="#000" stroke="#fff" stroke-width="0.50">S</text>
<text transform="translate(777.30 349.60) rotate(-90) scale(1.1537 1) translate(-1.92 0)" font-size="29.32" font-style="italic" fill="#000" stroke="#fff" stroke-width="0.50">T</text>
<line x1="779.60" y1="325.50" x2="742.10" y2="312.20" stroke="#000" stroke-width="1.60" stroke-linecap="round"/>
<text transform="translate(770.90 307.30) rotate(-90) scale(1.0059 1) translate(0.45 0)" font-size="42.30" font-style="italic" fill="#000" stroke="#fff" stroke-width="0.50">H</text>
<text transform="translate(777.34 274.20) rotate(-90) scale(1.1361 1) translate(-0.32 0)" font-size="26.41" font-style="italic" fill="#000" stroke="#fff" stroke-width="0.50">s</text>
<path d="M741.65 247.25Q760.80 265.35 779.95 247.25Q760.80 260.15 741.65 247.25Z" fill="#000"/><path d="M741.65 247.25Q760.80 264.05 779.95 247.25" fill="none" stroke="#000" stroke-width="1.30" stroke-linecap="round"/>
<rect x="760.20" y="218.20" width="1.80" height="23.90" fill="#000"/>
<path d="M741.65 212.25Q760.80 195.75 779.95 212.25Q760.80 200.95 741.65 212.25Z" fill="#000"/><path d="M741.65 212.25Q760.80 197.05 779.95 212.25" fill="none" stroke="#000" stroke-width="1.30" stroke-linecap="round"/>
<text transform="translate(148.89 564.00) scale(1.0778 1)" font-size="38.50" font-weight="bold" fill="#000" x="0.00 21.41">S3</text>
<text transform="translate(873.81 569.50) scale(1.0671 1)" font-size="38.50" font-weight="bold" fill="#000" x="0.00 21.41">S3</text>
<circle cx="495.2" cy="86.9" r="6.8" fill="#009900"/>
<circle cx="495.2" cy="126.3" r="6.8" fill="#d95319"/>
<line x1="468.3" y1="165.9" x2="522" y2="165.9" stroke="#000" stroke-width="4.8"/>
<text transform="translate(527.53 94.80) scale(0.9963 1)" font-size="33.90" fill="#000" x="0.00 24.48 48.96">HOS</text>
<text transform="translate(531.27 134.40) scale(0.9158 1)" font-size="33.90" fill="#000" x="0.00 32.00 56.48 75.33">WASS</text>
<text transform="translate(527.42 174.60) scale(1.0044 1)" font-size="33.90" fill="#000" x="0.00 22.61 37.66 54.61 64.03 79.07 88.49 105.44">Rayleigh</text>
<line x1="1224" y1="86.4" x2="1278.2" y2="86.4" stroke="#009900" stroke-width="9"/>
<line x1="1224" y1="126.2" x2="1278.2" y2="126.2" stroke="#d95319" stroke-width="9"/>
<line x1="1224" y1="167.7" x2="1278.2" y2="167.7" stroke="#000" stroke-width="6"/>
<text transform="translate(1283.73 93.90) scale(0.9963 1)" font-size="33.90" fill="#000" x="0.00 24.48 48.96">HOS</text>
<text transform="translate(1287.67 133.80) scale(0.9147 1)" font-size="33.90" fill="#000" x="0.00 32.00 56.48 75.33">WASS</text>
<text transform="translate(1282.44 177.10) scale(1.0850 1)" font-size="33.90" fill="#000" x="0.00 18.85 39.56">STE</text>
<path d="M1353.85 147.35Q1343.75 157.80 1353.85 168.25Q1347.55 157.80 1353.85 147.35Z" fill="#000"/><path d="M1353.85 147.35Q1345.05 157.80 1353.85 168.25" fill="none" stroke="#000" stroke-width="1.30" stroke-linecap="round"/>
<text transform="translate(1355.45 164.00) scale(0.8952 1)" font-size="23.48" fill="#000">1</text>
<path d="M1369.25 147.35Q1378.55 157.80 1369.25 168.25Q1374.75 157.80 1369.25 147.35Z" fill="#000"/><path d="M1369.25 147.35Q1377.25 157.80 1369.25 168.25" fill="none" stroke="#000" stroke-width="1.30" stroke-linecap="round"/>
</g>
</svg></body></html>
